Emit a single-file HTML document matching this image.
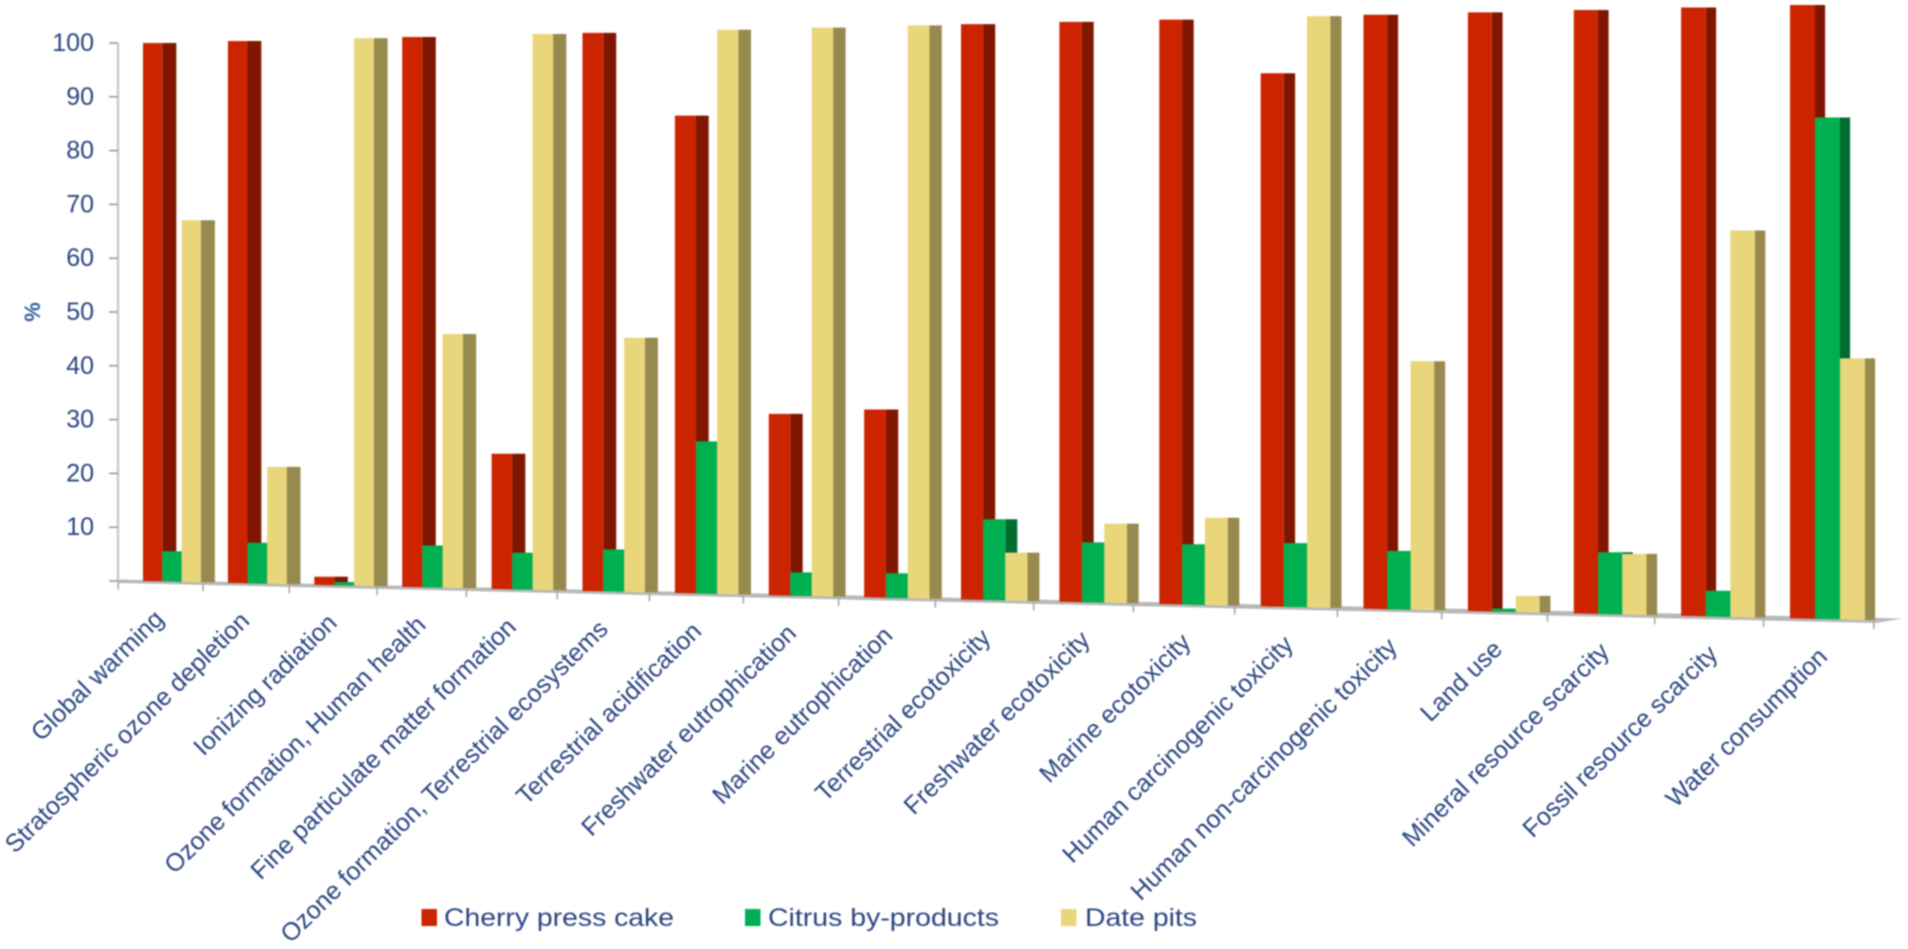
<!DOCTYPE html>
<html lang="en">
<head>
<meta charset="utf-8">
<title>Relative environmental impact by category</title>
<style>
html,body{margin:0;padding:0;background:#fff;width:1908px;height:949px;overflow:hidden}
svg{display:block;filter:blur(0.8px)}
text{font-family:"Liberation Sans",sans-serif;fill:#2a4580}
</style>
</head>
<body>
<svg id="chart" xmlns="http://www.w3.org/2000/svg" width="1908" height="949" viewBox="0 0 1908 949">
  <polygon points="118,579.5 1902,618.5 1876,623 118,583" fill="#b8b8b8"/>
  <line x1="118" y1="43" x2="118" y2="582" stroke="#c9c9c9" stroke-width="2.4"/>
  <text transform="translate(40,312) rotate(-90)" text-anchor="middle" font-size="22" font-weight="bold" style="fill:#2f5f9e">%</text>
  <g id="y-axis"></g>
  <g id="x-axis"></g>
  <g id="bars"></g>
  <g>
    <g>
      <rect x="421.5" y="909" width="15.5" height="17" fill="#cc2400"/>
      <text x="444" y="926" font-size="25" textLength="230" lengthAdjust="spacingAndGlyphs">Cherry press cake</text>
    </g>
    <g>
      <rect x="745" y="909" width="15.5" height="17" fill="#00b050"/>
      <text x="768" y="926" font-size="25" textLength="231" lengthAdjust="spacingAndGlyphs">Citrus by-products</text>
    </g>
    <g>
      <rect x="1061" y="909" width="15.5" height="17" fill="#e9d67b"/>
      <text x="1085" y="926" font-size="25" textLength="112" lengthAdjust="spacingAndGlyphs">Date pits</text>
    </g>
  </g>
</svg>
<script>
const categories = ["Global warming","Stratospheric ozone depletion","Ionizing radiation","Ozone formation, Human health","Fine particulate matter formation","Ozone formation, Terrestrial ecosystems","Terrestrial acidification","Freshwater eutrophication","Marine eutrophication","Terrestrial ecotoxicity","Freshwater ecotoxicity","Marine ecotoxicity","Human carcinogenic toxicity","Human non-carcinogenic toxicity","Land use","Mineral resource scarcity","Fossil resource scarcity","Water consumption"];
const cherryPressCake = [100,100,1.5,100,24.4,100,84.9,32,32.9,100,100,100,90.5,100,100,100,100,100];
const citrusByProducts = [5.6,7.5,0.6,7.6,6.6,7.5,27,4.1,4.3,14,10.3,10.3,10.8,9.8,0.5,10.2,4.2,81.6];
const datePits = [67,21.5,100,46,100,45.4,100,100,100,8.3,13.6,14.9,100,41.7,2.7,10,63.3,42.4];
const yTickLabels = [10,20,30,40,50,60,70,80,90,100];

const NS = "http://www.w3.org/2000/svg";
function make(tag, attrs, parent) {
  const el = document.createElementNS(NS, tag);
  for (const k in attrs) el.setAttribute(k, attrs[k]);
  parent.appendChild(el);
  return el;
}
function groupX(i) { return 143 + 84.15 * i + 0.749 * i * i; }
function frontWidth(x) { return 19.3 + 0.00346 * (x - 143); }
function sideWidth(x) { return 14 - 0.0024 * (x - 143); }
function floorY(x) { return 581 + 0.02265 * (x - 143); }
function ceilY(x) { return 43 - 0.02307 * (x - 143); }
function valueY(v, x) { const b = floorY(x); return b - (v / 100) * (b - ceilY(x)); }
function axisY(v) { return 581 - v * 5.38; }
function tickX(k) { return groupX(k - 1) + 60 + 1.4 * (k - 1); }
function pts(list) { return list.map(p => p[0].toFixed(1) + "," + p[1].toFixed(1)).join(" "); }

const yAxis = document.getElementById("y-axis");
const xAxis = document.getElementById("x-axis");
const barsG = document.getElementById("bars");

const zeroTick = make("line", {x1:109, x2:118, y1:axisY(0), y2:axisY(0), stroke:"#9a9a9a", "stroke-width":1.6}, yAxis);



yTickLabels.forEach(v => {
  const t = make("line", {x1:109, x2:118, y1:axisY(v), y2:axisY(v), stroke:"#9a9a9a", "stroke-width":1.6}, yAxis);
  
  
  const l = make("text", {x:94, y:axisY(v) + 8, "text-anchor":"end", "font-size":25}, yAxis);
  
  
  l.textContent = v;
});

for (let k = 0; k <= categories.length; k++) {
  const tx = tickX(k);
  const t = make("line", {x1:tx, x2:tx, y1:floorY(tx) + 1, y2:floorY(tx) + 9, stroke:"#a8a8a8", "stroke-width":1.6}, xAxis);
  
  
}

categories.forEach((name, i) => {
  const anchorX = tickX(i + 1) - 45 + 7 * (1 - i / 17);
  const anchorY = floorY(anchorX) + 39;
  const l = make("text", {transform:"translate(" + anchorX.toFixed(1) + "," + anchorY.toFixed(1) + ") rotate(-44.5)", "text-anchor":"end", "font-size":25}, xAxis);
  
  
  l.textContent = name;
});

function drawBar(x, w, s, v, front, side, seriesGroup) {
  const xr = x + w, xs = xr + s;
  const sidePoly = make("polygon", {
    points: pts([[xr, valueY(v, x)], [xs, valueY(v, x)], [xs, floorY(xr)], [xr, floorY(xr)]]),
    fill: side
  }, seriesGroup);
  
  
  const frontRect = make("polygon", {
    points: pts([[x, valueY(v, x)], [xr, valueY(v, x)], [xr, floorY(xr)], [x, floorY(x)]]),
    fill: front
  }, seriesGroup);
  
  
}

categories.forEach((name, i) => {
  const x0 = groupX(i);
  const w = frontWidth(x0);
  const s = sideWidth(x0);
  const group = make("g", {}, barsG);
  
  
  drawBar(x0, w, s, cherryPressCake[i], "#cc2400", "#801600", group);
  drawBar(x0 + w, w, s, citrusByProducts[i], "#00b050", "#006b30", group);
  drawBar(x0 + 2 * w, w, s, datePits[i], "#e9d67b", "#978a4e", group);
});
</script>
</body>
</html>
